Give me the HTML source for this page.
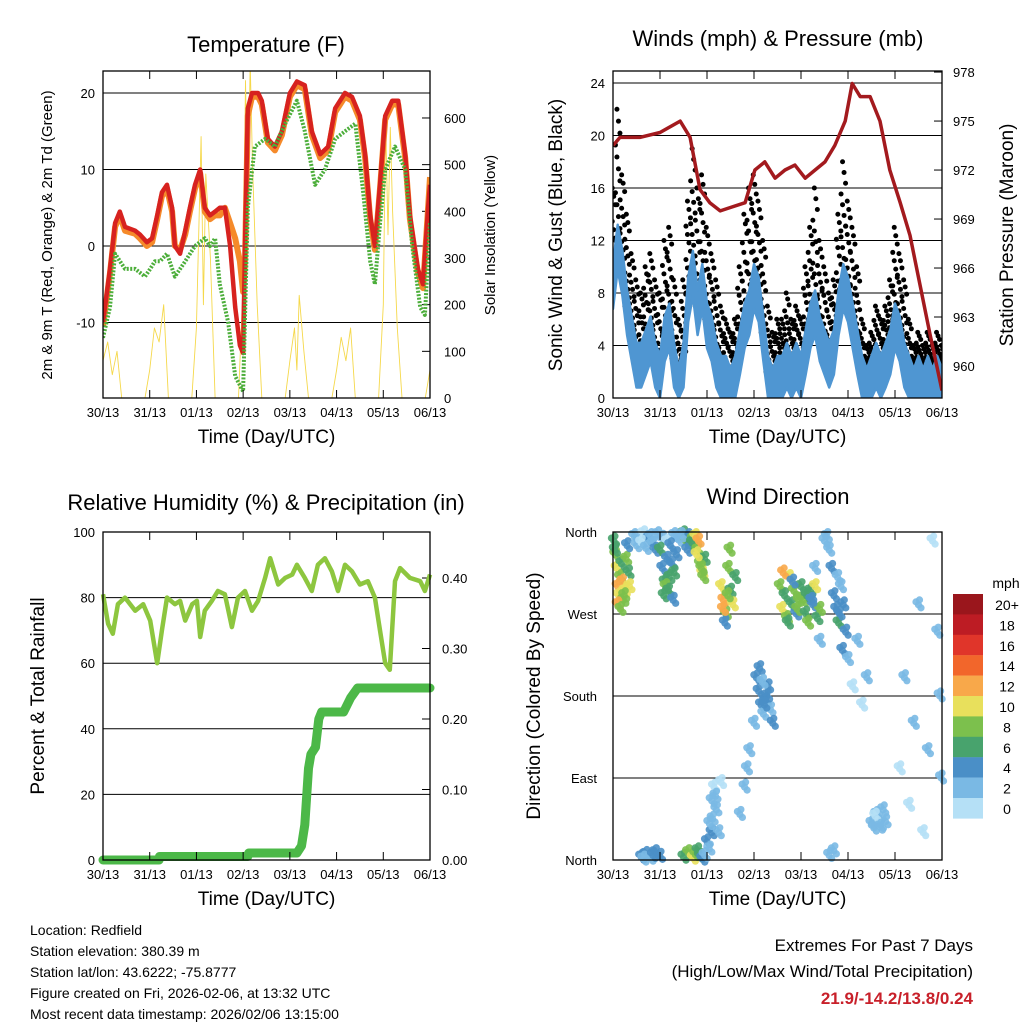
<!DOCTYPE html>
<html><head><meta charset="utf-8"><style>
html,body{margin:0;padding:0;background:#fff}
svg{display:block;font-family:"Liberation Sans",Arial,sans-serif}
</style></head><body>
<svg id="c" width="1024" height="1024" viewBox="0 0 1024 1024"></svg>
<script>
// ---------- Temperature data (days since 30/13 13UTC) ----------
const tTimes=[0,.15,.26,.36,.47,.69,.79,.94,1.05,1.16,1.26,1.37,1.48,1.54,1.65,1.76,1.86,1.97,2.08,2.18,2.29,2.40,2.50,2.61,2.72,2.83,2.93,3.0,3.04,3.10,3.19,3.32,3.40,3.53,3.68,3.83,4.0,4.15,4.32,4.47,4.65,4.82,4.97,5.18,5.33,5.50,5.61,5.72,5.82,5.93,6.04,6.19,6.32,6.47,6.57,6.74,6.85,6.96,7.0];
const t2m=[-10,-3,3,4.5,2.5,2,1.5,0.5,1,4,7,8,5,0,-1,2,5,8,10,5,4,4.5,5,5,0,-8,-13,-14,0,18,20,20,19,14,13,15,20,21.5,21,15,12,13,18,20,19.5,17,12,4,0,8,17,19,19,12,4,-3,-5,5,8];
const t9m=[-10.5,-3.5,2.5,4,2,1.6,1,0,0.5,3.5,6.5,7.5,4.5,0,-0.5,1.5,4.5,7.5,9.5,4.5,3.5,4,4,5,3,1,-2,-6,-2,17,19.5,19.5,18.5,13.5,12.5,14.5,19.5,21,20.5,14.5,11.5,12.5,17.5,19.5,19,16.5,11.5,3.5,-0.5,7.5,16.5,18.5,18.5,11.5,3.5,-3.5,-5.5,5,9];
const tdTimes=[0,.15,.26,.47,.69,.9,1.01,1.11,1.22,1.37,1.54,1.76,1.97,2.18,2.29,2.4,2.5,2.68,2.83,3.0,3.1,3.25,3.47,3.68,3.9,4.15,4.32,4.54,4.75,4.97,5.18,5.4,5.57,5.72,5.82,5.93,6.04,6.25,6.47,6.62,6.79,6.89,7];
const td2m=[-12,-8,-1,-3,-3,-4,-3,-2,-2,-1,-4,-2,0,1,0,1,-5,-10,-17,-19,5,13,14,13,16,19,15,8,10,14,15,16,7,-2,-5,3,10,13,10,0,-8,-9,3];
const sunTimes=[0,.1,.2,.3,.4,.9,1.0,1.1,1.2,1.3,1.4,1.9,2.0,2.1,2.15,2.2,2.3,2.4,2.9,3.0,3.05,3.1,3.15,3.2,3.3,3.4,3.9,4.0,4.1,4.15,4.2,4.3,4.4,4.9,5.0,5.1,5.2,5.3,5.4,5.9,6.0,6.05,6.1,6.15,6.2,6.3,6.4,6.9,7.0];
const sunVals=[80,120,50,100,0,0,60,150,120,200,0,0,150,560,200,480,300,0,0,250,680,400,720,500,200,0,0,80,150,60,220,100,0,0,60,130,80,150,0,0,200,600,350,580,400,150,0,0,60];
const tempTicks=[-10,0,10,20];
const sunTicks=[0,100,200,300,400,500,600];
const dayLabels=["30/13","31/13","01/13","02/13","03/13","04/13","05/13","06/13"];
// ---------- Wind data (every 0.1 day) ----------
const windVals=[9,12,10,7,5,3,3,4,5,3,2,5,6,3,1,3,8,10,7,9,6,5,3,2,2,1,2,4,6,7,9,8,5,2,1,2,2,3,2,3,2,4,6,7,5,4,3,4,7,9,8,6,4,2,1,2,3,2,3,4,6,5,3,2,1,2,1,2,1,2,1];
const gustVals=[16,22,17,14,11,9,8,10,11,9,8,12,13,9,6,9,15,19,16,17,13,11,9,7,6,5,6,10,14,16,17,15,12,7,5,6,6,8,6,7,6,10,13,16,12,10,8,9,14,18,15,13,10,6,4,5,7,6,7,9,13,11,9,6,4,5,4,5,4,5,4];
const presTimes=[0,.15,.57,1.0,1.43,1.64,1.85,2.06,2.28,2.49,2.81,3.02,3.23,3.45,3.66,3.87,4.09,4.3,4.51,4.72,4.94,5.09,5.26,5.47,5.68,5.89,6.11,6.32,6.53,6.74,6.89,7.0];
const presVals=[973.5,974,974,974.3,975,974,970.8,970,969.5,969.7,970,972,972.5,971.5,972,972.3,971.5,972,972.5,973.5,975,977.3,976.5,976.5,975,972,970,968,965,962,960,958.5];
const windTicks=[0,4,8,12,16,20,24];
const presTicks=[960,963,966,969,972,975,978];
// ---------- RH / precip ----------
const rhTimes=[0,.11,.21,.32,.47,.69,.86,1.01,1.16,1.26,1.37,1.54,1.65,1.76,1.91,2.01,2.08,2.18,2.33,2.46,2.61,2.76,2.89,3.04,3.19,3.32,3.47,3.58,3.75,3.9,4.05,4.15,4.32,4.47,4.6,4.75,4.9,5.03,5.18,5.33,5.5,5.67,5.82,5.93,6.04,6.14,6.25,6.36,6.57,6.79,6.89,7];
const rhVals=[81,72,69,78,80,76,78,73,60,70,80,78,79,73,78,79,68,76,79,82,81,71,80,82,76,79,86,92,84,86,87,90,86,82,90,92,88,82,90,88,84,85,80,70,60,58,85,89,86,85,82,87];
const prTimes=[0,1.2,1.21,3.1,3.12,4.15,4.25,4.32,4.4,4.45,4.55,4.62,4.68,5.15,5.3,5.45,7];
const prVals=[0,0,0.005,0.005,0.01,0.01,0.02,0.05,0.13,0.15,0.16,0.2,0.21,0.21,0.23,0.244,0.244];
const rhTicks=[0,20,40,60,80,100];
const prTicks=["0.00","0.10","0.20","0.30","0.40"];
// ---------- Wind direction ----------
const dirTimes=[0.02,0.05,0.08,0.1,0.12,0.15,0.18,0.2,0.22,0.25,0.28,0.3,0.33,0.35,0.04,0.1,0.16,0.24,
0.45,0.55,0.65,0.75,0.85,0.95,1.05,1.15,1.3,1.4,0.5,0.6,0.7,0.8,0.9,
0.6,0.7,0.8,0.9,1.0,0.65,0.85,
1.0,1.05,1.1,1.15,1.2,1.25,1.3,1.35,1.12,1.22,1.08,1.18,1.28,
1.5,1.55,1.6,1.65,1.7,1.45,1.58,1.68,
1.75,1.8,1.85,1.9,1.95,1.82,1.88,1.78,1.92,
1.5,1.6,1.7,1.75,1.8,1.85,1.9,
1.95,2.0,2.05,2.1,2.05,2.1,2.15,2.2,2.25,2.3,2.12,2.18,
2.3,2.35,2.4,2.45,2.5,2.55,2.6,2.38,2.48,2.34,2.44,
2.7,2.8,2.85,2.9,3.0,
3.05,3.1,3.15,3.2,3.25,3.3,3.35,3.4,3.12,3.28,3.18,3.22,
3.55,3.6,3.65,3.7,3.75,3.8,3.85,3.9,3.95,4.0,3.62,3.72,3.82,3.92,
4.05,4.1,4.15,4.2,4.25,4.3,4.35,4.4,4.12,4.22,
4.3,4.4,4.5,4.55,4.6,4.65,4.7,4.6,
4.7,4.75,4.8,4.85,4.9,4.95,4.78,4.88,4.82,
5.0,5.1,5.2,5.3,5.4,
5.5,5.55,5.6,5.65,5.7,5.75,5.8,5.58,5.68,
6.1,6.2,6.3,6.4,6.5,6.6,6.7,6.8,6.9,6.95,6.98];
const dirVals=[350,335,320,300,290,310,325,305,285,295,330,345,315,300,340,280,275,290,
355,350,358,352,347,357,353,349,356,351,345,348,342,355,340,
3,6,2,8,4,1,5,
340,320,305,330,310,325,315,335,300,345,290,295,285,
358,350,355,345,352,356,340,348,
355,340,325,315,330,350,320,335,310,
3,8,2,6,10,4,1,
5,20,12,30,40,65,80,55,30,85,45,70,
300,285,270,320,295,280,310,260,340,275,290,
50,80,100,120,150,
200,185,170,160,175,190,165,150,210,180,195,170,
300,275,290,265,310,280,295,270,285,300,315,260,305,275,
285,270,260,295,280,300,265,275,290,285,
320,240,350,355,340,320,10,5,
290,275,260,300,280,250,310,230,270,
220,190,240,170,200,
40,35,50,45,38,55,42,48,36,
100,200,60,150,280,30,120,350,250,180,90];
const dirSpd=[7,9,11,12,10,8,6,13,9,11,8,5,7,10,6,12,9,8,
2,3,1,4,2,3,2,1,3,2,2,1,3,2,4,
4,4,3,4,5,3,4,
7,5,6,4,7,5,6,4,8,5,6,7,5,
6,8,5,7,9,3,4,6,
11,9,8,10,7,12,9,10,8,
7,8,10,9,7,6,5,
3,4,3,4,2,3,1,2,3,1,2,2,
10,12,8,9,6,11,7,5,8,13,9,
2,3,2,3,2,
4,5,4,3,5,4,3,4,5,4,3,4,
9,11,7,8,10,6,8,5,9,7,12,6,4,8,
8,6,9,7,5,10,6,8,7,4,
3,2,3,3,2,4,2,3,
5,4,6,3,5,4,3,4,5,
2,1,2,1,2,
2,3,2,3,2,3,2,1,2,
1,2,1,2,3,1,2,1,2,3,2];
const legendLabels=["20+","18","16","14","12","10","8","6","4","2","0"];
const legendColors=["#9a161c","#bd1c24","#e0352a","#f2662b","#f8a84a","#e8e05c","#7cc04d","#48a36d","#4a8fc7","#7ab9e4","#b5e0f6"];

const NS="http://www.w3.org/2000/svg";
const svg=document.getElementById('c');
function mk(tag,attrs,parent){const e=document.createElementNS(NS,tag);for(const k in attrs)e.setAttribute(k,attrs[k]);(parent||svg).appendChild(e);return e;}
function txt(s,x,y,size,anchor,parent,extra){const e=mk('text',Object.assign({x:x,y:y,'font-size':size,'text-anchor':anchor||'middle',fill:'#000'},extra||{}),parent);e.textContent=s;return e;}
function poly(pts,stroke,w,parent,extra){return mk('polyline',Object.assign({points:pts.map(p=>p[0].toFixed(1)+','+p[1].toFixed(1)).join(' '),fill:'none',stroke:stroke,'stroke-width':w,'stroke-linejoin':'round'},extra||{}),parent);}

function frame(g,x0,y0,x1,y1,xf){
  for(let i=0;i<dayLabels.length;i++){
    const x=xf(i);
    mk('line',{x1:x,y1:y0,x2:x,y2:y0+8,stroke:'#000','stroke-width':1},g);
    mk('line',{x1:x,y1:y1,x2:x,y2:y1-8,stroke:'#000','stroke-width':1},g);
    const l=txt(dayLabels[i],x,y1+19,13,'middle',g);
    
    
  }
  mk('rect',{x:x0,y:y0,width:x1-x0,height:y1-y0,fill:'none',stroke:'#000','stroke-width':1.3},g);
  const t=txt('Time (Day/UTC)',(x0+x1)/2,y1+45,19,'middle',g);
  
  
}
function grp(name){const g=mk('g',{});return g;}

// ===== Panel 1: Temperature =====
(function(){
  const g=grp('temperature-panel');
  const X0=103,X1=430,Y0=71,Y1=398;
  const xT=d=>X0+d*(X1-X0)/7, yT=v=>246-v*7.65, yS=v=>398-v*0.4667;
  const cp=mk('clipPath',{id:'cp1'},g);mk('rect',{x:X0,y:Y0,width:X1-X0,height:Y1-Y0},cp);
  tempTicks.forEach(v=>{mk('line',{x1:X0,x2:X1,y1:yT(v),y2:yT(v),stroke:'#000','stroke-width':1},g);
    const l=txt(String(v),X0-8,yT(v)+5,13,'end',g);});
  sunTicks.forEach(v=>{mk('line',{x1:X1,x2:X1-8,y1:yS(v),y2:yS(v),stroke:'#000'},g);
    const l=txt(String(v),X1+14,yS(v)+5,13,'start',g);});
  const pg=mk('g',{'clip-path':'url(#cp1)'},g);
  const s=poly(sunTimes.map((t,i)=>[xT(t),yS(sunVals[i])]),'#f5d84a',0.9,pg);
  
  const o=poly(tTimes.map((t,i)=>[xT(t),yT(t9m[i])]),'#f58a2a',6,pg);
  
  const r=poly(tTimes.map((t,i)=>[xT(t),yT(t2m[i])]),'#d7221f',4.5,pg);
  
  const gr=poly(tdTimes.map((t,i)=>[xT(t),yT(td2m[i])]),'#4cae3a',4,pg,{'stroke-dasharray':'2,1.5'});
  
  frame(g,X0,Y0,X1,Y1,xT);
  const ti=txt('Temperature (F)',266,52,22,'middle',g);
  const ya=txt('2m & 9m T (Red, Orange) & 2m Td (Green)',0,0,15,'middle',g,{transform:'translate(52,235) rotate(-90)'});
  const yb=txt('Solar Insolation (Yellow)',0,0,15,'middle',g,{transform:'translate(495,235) rotate(-90)'});
})();

// ===== Panel 2: Winds & Pressure =====
(function(){
  const g=grp('winds-pressure-panel');
  const X0=613,X1=942,Y0=71,Y1=398;
  const xW=d=>X0+d*(X1-X0)/7, yW=v=>398-v*13.125, yP=p=>366-(p-960)*16.33;
  const cp=mk('clipPath',{id:'cp2'},g);mk('rect',{x:X0,y:Y0,width:X1-X0,height:Y1-Y0},cp);
  windTicks.forEach(v=>{mk('line',{x1:X0,x2:X1,y1:yW(v),y2:yW(v),stroke:'#000','stroke-width':1},g);
    const l=txt(String(v),X0-8,yW(v)+5,13,'end',g);});
  presTicks.forEach(v=>{mk('line',{x1:X1,x2:X1-8,y1:yP(v),y2:yP(v),stroke:'#000'},g);
    const l=txt(String(v),X1+11,yP(v)+5,13,'start',g);});
  const pg=mk('g',{'clip-path':'url(#cp2)'},g);
  const n=windVals.length, tw=i=>i*7/(n-1);
  gustVals.forEach((gv,i)=>{
    const w=windVals[i];
    const nd=12;
    for(let k=0;k<nd;k++){
      const frac=((k*7)%nd)/(nd-1), v=w+(gv-w)*frac;
      const dx=(k%4-1.5)*1.5;
      const c=mk('circle',{cx:xW(tw(i))+dx,cy:yW(v),r:2.5,fill:'#000'},pg);
      
      
    }
  });
  const hi=windVals.map((v,i)=>[xW(tw(i)),yW(v+1.2)]), lo=windVals.map((v,i)=>[xW(tw(i)),yW(Math.max(0,v-2.2))]).reverse();
  const band=mk('polygon',{points:hi.concat(lo).map(p=>p[0].toFixed(1)+','+p[1].toFixed(1)).join(' '),fill:'#4f96d2',stroke:'#4f96d2','stroke-width':2.5,'stroke-linejoin':'round'},pg);
  
  const pr=poly(presTimes.map((t,i)=>[xW(t),yP(presVals[i])]),'#a31a1e',3.5,pg);
  
  frame(g,X0,Y0,X1,Y1,xW);
  const ti=txt('Winds (mph) & Pressure (mb)',778,46,22,'middle',g);
  const ya=txt('Sonic Wind & Gust (Blue, Black)',0,0,19,'middle',g,{transform:'translate(562,235) rotate(-90)'});
  const yb=txt('Station Pressure (Maroon)',0,0,19,'middle',g,{transform:'translate(1013,235) rotate(-90)'});
})();

// ===== Panel 3: RH & Precip =====
(function(){
  const g=grp('humidity-precip-panel');
  const X0=103,X1=430,Y0=532,Y1=860;
  const xR=d=>X0+d*(X1-X0)/7, yR=v=>860-v*3.28, yPr=p=>860-p*705;
  rhTicks.forEach(v=>{if(v>0&&v<100)mk('line',{x1:X0,x2:X1,y1:yR(v),y2:yR(v),stroke:'#000','stroke-width':1},g);
    const l=txt(String(v),X0-8,yR(v)+5,13,'end',g);});
  prTicks.forEach(v=>{const y=yPr(parseFloat(v));mk('line',{x1:X1,x2:X1-8,y1:y,y2:y,stroke:'#000'},g);
    const l=txt(v,X1+12,y+5,13,'start',g);});
  const rh=poly(rhTimes.map((t,i)=>[xR(t),yR(rhVals[i])]),'#8dc63f',4.5,g);
  
  const p=poly(prTimes.map((t,i)=>[xR(t),yPr(prVals[i])]),'#4cb848',9,g,{'stroke-linecap':'round'});
  
  frame(g,X0,Y0,X1,Y1,xR);
  const ti=txt('Relative Humidity (%) & Precipitation (in)',266,510,22,'middle',g);
  const ya=txt('Percent & Total Rainfall',0,0,19,'middle',g,{transform:'translate(44,696) rotate(-90)'});
})();

// ===== Panel 4: Wind Direction =====
(function(){
  const g=grp('wind-direction-panel');
  const X0=613,X1=942,Y0=532,Y1=860;
  const xD=d=>X0+d*(X1-X0)/7, yD=v=>860-v*(328/360);
  const labs=[["North",0],["East",90],["South",180],["West",270],["North",360]];
  labs.forEach(([s,v])=>{if(v>0&&v<360)mk('line',{x1:X0,x2:X1,y1:yD(v),y2:yD(v),stroke:'#000','stroke-width':1},g);
    const l=txt(s,X0-16,yD(v)+5,13,'end',g);});
  const col=s=>legendColors[10-Math.min(10,Math.floor(s/2))];
  const offs=[[0,0],[2.5,3],[-2.5,-3],[1,-5]];
  dirTimes.forEach((t,i)=>{
    offs.forEach(o=>{
      const c=mk('circle',{cx:xD(t)+o[0],cy:yD(dirVals[i])+o[1],r:3.6,fill:col(dirSpd[i]),'fill-opacity':0.9},g);
      
      
    });
  });
  frame(g,X0,Y0,X1,Y1,xD);
  const ti=txt('Wind Direction',778,504,22,'middle',g);
  const ya=txt('Direction (Colored By Speed)',0,0,19,'middle',g,{transform:'translate(540,696) rotate(-90)'});
  const lg=grp('speed-legend');
  const m=txt('mph',1006,588,14,'middle',lg);
  legendLabels.forEach((s,i)=>{
    const y=594+i*20.4;
    const r=mk('rect',{x:953,y:y,width:30,height:20.6,fill:legendColors[i]},lg);
    
    const l=txt(s,1007,y+16,14,'middle',lg);
  });
})();

// ===== Footer text =====
(function(){
  const g=grp('station-info');
  const lines=["Location: Redfield","Station elevation: 380.39 m","Station lat/lon: 43.6222; -75.8777","Figure created on Fri, 2026-02-06, at 13:32 UTC","Most recent data timestamp: 2026/02/06 13:15:00"];
  lines.forEach((s,i)=>{const l=txt(s,30,935+i*21,14,'start',g);});
  const e=grp('extremes-summary');
  const a=txt('Extremes For Past 7 Days',973,951,17,'end',e);
  const b=txt('(High/Low/Max Wind/Total Precipitation)',973,977,17,'end',e);
  const c=txt('21.9/-14.2/13.8/0.24',973,1004,17,'end',e,{fill:'#c8202a','font-weight':'bold'});
})();
</script>
</body></html>
